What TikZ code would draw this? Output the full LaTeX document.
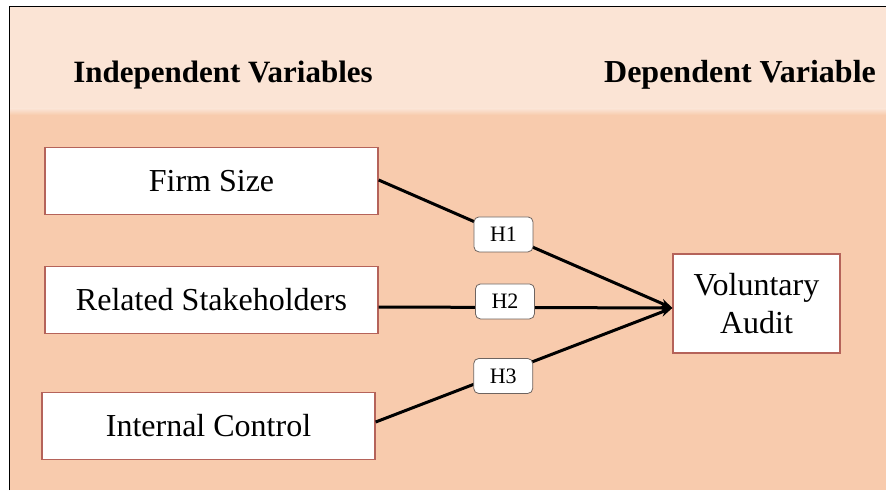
\documentclass[tikz,border=0pt]{standalone}
\usepackage{fontspec}
\setmainfont{Liberation Serif}
\usetikzlibrary{arrows.meta}
\definecolor{hdr}{HTML}{FBE4D5}
\definecolor{bodyc}{HTML}{F8CBAD}
\definecolor{bord}{HTML}{B5635A}
\definecolor{hbord}{HTML}{6E6460}
\begin{document}
\begin{tikzpicture}[x=1pt,y=-1pt,
  varbox/.style={draw=bord, line width=1.3pt, fill=white, minimum width=333pt, minimum height=67pt,
    font=\fontsize{32}{38}\selectfont, inner sep=0pt},
  hbox/.style={draw=hbord, line width=0.8pt, fill=white, rounded corners=5pt, minimum width=59pt,
    minimum height=35pt, font=\fontsize{22}{26}\selectfont, inner sep=0pt},
  conn/.style={line width=3pt, draw=black, -{Stealth[length=12pt,width=9pt]}},
  hdrtext/.style={font=\fontsize{31}{37}\selectfont\bfseries, anchor=base, inner sep=0pt}]
\useasboundingbox (0,0) rectangle (886,490);
\fill[white] (0,0) rectangle (886,490);
\fill[bodyc] (9,6) rectangle (886,490);
\fill[hdr] (9,6) rectangle (886,109);
\shade[top color=hdr, bottom color=bodyc] (9,108.5) rectangle (886,115);
\draw[line width=1pt] (9,490) -- (9,6) -- (886,6);

\node[hdrtext] (hind) at (223,82) {Independent Variables};
\node[hdrtext, font=\fontsize{32}{38}\selectfont\bfseries] (hdep) at (740,82) {Dependent Variable};

\node[varbox] (fs) at (211.5,181) {Firm Size};
\node[varbox] (rs) at (211.5,300) {Related Stakeholders};
\node[varbox] (ic) at (208.5,426) {Internal Control};
\node[varbox, minimum width=167pt, minimum height=99pt, align=center,
      font=\fontsize{32}{38}\selectfont] (va) at (756.5,303.5) {Voluntary\\Audit};
\coordinate (tip) at ([yshift=-4.5pt]va.west);

\draw[conn] ([yshift=1pt]fs.east) -- node[hbox, pos=0.425] (h1) {H1} (tip);
\draw[conn] ([yshift=-7pt]rs.east) -- node[hbox, pos=0.43, yshift=6pt] (h2) {H2} (tip);
\draw[conn] ([yshift=4pt]ic.east) -- node[hbox, pos=0.43, yshift=-3pt] (h3) {H3} (tip);
\end{tikzpicture}
\end{document}
